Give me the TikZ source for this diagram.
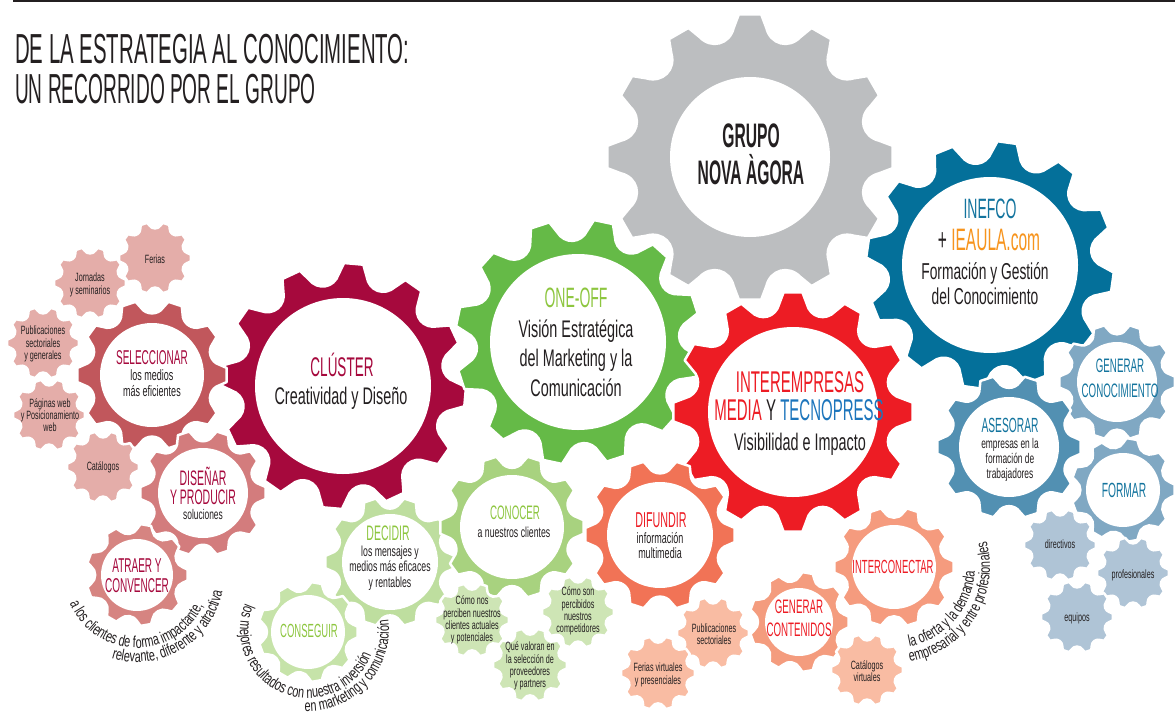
\documentclass[tikz,border=0pt]{standalone}
\usepackage{fontspec}
\setmainfont{Liberation Sans}
\newfontfamily\fTa{Liberation Sans}[FakeStretch=0.485]
\newfontfamily\fT{Liberation Sans}[FakeStretch=0.455]
\newfontfamily\fG{Liberation Sans}[FakeStretch=0.46]
\newfontfamily\fH{Liberation Sans}[FakeStretch=0.5]
\newfontfamily\fB{Liberation Sans}[FakeStretch=0.6]
\newfontfamily\fC{Liberation Sans}[FakeStretch=0.68]
\usetikzlibrary{decorations.text}
\newcommand{\setfs}[1]{\fontsize{#1}{#1}\selectfont}
\definecolor{txt}{HTML}{231F20}
\definecolor{crimsonT}{HTML}{A6093D}
\definecolor{greenT}{HTML}{8DC63F}
\definecolor{redT}{HTML}{ED1C24}
\definecolor{tealT}{HTML}{13749E}
\definecolor{tecno}{HTML}{1C75BC}
\definecolor{orangeT}{HTML}{F7941D}
\definecolor{gGray}{HTML}{BCBEC0}
\definecolor{gCrimson}{HTML}{A6093D}
\definecolor{gGreen}{HTML}{65BA47}
\definecolor{gRed}{HTML}{ED1C24}
\definecolor{gTeal}{HTML}{04709A}
\definecolor{gSel}{HTML}{C1575C}
\definecolor{gDis}{HTML}{D37C7D}
\definecolor{gAtr}{HTML}{D68481}
\definecolor{gPink}{HTML}{E4ADA9}
\definecolor{gCon}{HTML}{A8D27F}
\definecolor{gDec}{HTML}{BEDE9F}
\definecolor{gCsg}{HTML}{C6E3A9}
\definecolor{gGrs}{HTML}{CEE5B5}
\definecolor{gDif}{HTML}{F17356}
\definecolor{gInt}{HTML}{F59B7E}
\definecolor{gGen}{HTML}{F49C7E}
\definecolor{gSal}{HTML}{F9BCA3}
\definecolor{gAse}{HTML}{5290B2}
\definecolor{gGcn}{HTML}{80A8C3}
\definecolor{gBlu}{HTML}{AFC4D6}
\tikzset{
  gearline/.style={draw=white, line width=2.5pt, line join=round},
  t/.style={inner sep=0pt, anchor=base, text=txt},
  hd/.style={t, font=\fH\setfs{#1}},
  bd/.style={t, font=\fB\setfs{#1}},
  sm/.style={inner sep=0pt, anchor=center, align=center, text=txt, font=\fB\fontsize{12}{12.3}\selectfont},
  curve/.style={decorate, decoration={text along path, text align=center, text color=txt, text={|\fC\setfs{16}|#1}}}
}
% #1 x, #2 y, #3 outer radius, #4 teeth, #5 phase, #6 colour, #7 inner radius
\newcommand{\gear}[7]{%
  \pgfmathsetmacro\gP{360/#4}%
  \pgfmathsetmacro\gA{0.15*\gP}%
  \pgfmathsetmacro\gB{0.24*\gP}%
  \pgfmathsetmacro\gC{0.10*\gP}%
  \pgfmathsetmacro\gRm{0.91*#3}%
  \pgfmathsetmacro\gRr{0.80*#3}%
  \begin{scope}[shift={(#1,#2)}]
    \filldraw[gearline, fill=#6] ({#5-\gA}:#3)
      \foreach \i in {1,...,#4}{
        -- ({#5+(\i-1)*\gP-\gA}:#3) -- ({#5+(\i-1)*\gP+\gA}:#3)
        -- ({#5+(\i-1)*\gP+\gB}:\gRm)
        .. controls ({#5+(\i-1)*\gP+\gB+\gC}:\gRr) and ({#5+\i*\gP-\gB-\gC}:\gRr) .. ({#5+\i*\gP-\gB}:\gRm)
      } -- cycle;
    \ifdim #7pt>0pt \fill[white] (0,0) circle[radius=#7]; \fi
  \end{scope}}
\begin{document}
\begin{tikzpicture}[x=1pt,y=-1pt]
\useasboundingbox (0,0) rectangle (1175,715);
\fill[white] (0,0) rectangle (1175,715);
\draw[line width=1.6pt, txt] (13,0.8) -- (1175,0.8);

% title
\node[t, anchor=base west, font=\fTa\setfs{42}] (title1) at (15,63) {DE LA ESTRATEGIA AL CONOCIMIENTO:};
\node[t, anchor=base west, font=\fT\setfs{42}] (title2) at (15,103) {UN RECORRIDO POR EL GRUPO};

% big gears
\gear{750}{157}{143}{12}{0}{gGray}{80}
\gear{990}{265}{124}{12}{8}{gTeal}{88}
\gear{343}{386}{123}{12}{5}{gCrimson}{88}
\gear{578}{342}{123}{12}{12}{gGreen}{88}
\gear{793}{412}{120}{12}{0}{gRed}{85}
% medium gears
\gear{152}{375}{75}{10}{0}{gSel}{52}
\gear{203}{493}{63}{10}{0}{gDis}{45}
\gear{137}{575}{51}{9}{0}{gAtr}{36}
\gear{390}{562}{65}{10}{0}{gDec}{48}
\gear{308}{632}{50}{9}{0}{gCsg}{37}
\gear{512}{527}{72}{10}{0}{gCon}{52}
\gear{660}{535}{75}{10}{0}{gDif}{53}
\gear{894}{567}{60}{10}{0}{gInt}{42}
\gear{799}{622}{50}{9}{0}{gGen}{34}
\gear{1117}{382}{58}{10}{0}{gGcn}{40}
\gear{1009}{447}{72}{10}{0}{gAse}{50}
\gear{1123}{490}{52}{9}{0}{gGcn}{37}
% small gears
\gear{155}{258}{36}{10}{0}{gPink}{0}
\gear{90}{283}{36}{10}{0}{gPink}{0}
\gear{43}{343}{36}{10}{0}{gPink}{0}
\gear{49}{415}{36}{10}{0}{gPink}{0}
\gear{103}{467}{36}{10}{0}{gPink}{0}
\gear{472}{620}{37}{10}{0}{gGrs}{0}
\gear{578}{612}{36}{10}{0}{gGrs}{0}
\gear{530}{665}{37}{10}{0}{gGrs}{0}
\gear{713}{633}{36}{10}{0}{gSal}{0}
\gear{658}{673}{37}{10}{0}{gSal}{0}
\gear{867}{670}{36}{10}{0}{gSal}{0}
\gear{1060}{545}{36}{10}{0}{gBlu}{0}
\gear{1133}{573}{36}{10}{0}{gBlu}{0}
\gear{1077}{617}{36}{10}{0}{gBlu}{0}

% texts: big gears
\node[t, font=\fG\bfseries\setfs{34}] (grupo1) at (751,147) {GRUPO};
\node[t, font=\fG\bfseries\setfs{34}] (grupo2) at (751,184) {NOVA ÀGORA};
\node[hd=27, text=crimsonT] (clu1) at (342,376) {CLÚSTER};
\node[bd=24] (clu2) at (341,404) {Creatividad y Diseño};
\node[hd=28, text=greenT] (one1) at (576,307) {ONE-OFF};
\node[bd=24] (one2) at (576,337) {Visión Estratégica};
\node[bd=24] (one3) at (576,366) {del Marketing y la};
\node[bd=24] (one4) at (576,396) {Comunicación};
\node[hd=30, text=redT] (int1) at (800,392) {INTEREMPRESAS};
\node[hd=30] (int2) at (799,420) {\textcolor{redT}{MEDIA} Y \textcolor{tecno}{TECNOPRESS}};
\node[bd=24] (int3) at (800,450) {Visibilidad e Impacto};
\node[hd=28, text=tealT] (ine1) at (990,218) {INEFCO};
\node[hd=31] (ine2) at (989,250) {+ \textcolor{orangeT}{IEAULA.com}};
\node[bd=23] (ine3) at (985,279) {Formación y Gestión};
\node[bd=23] (ine4) at (985,304) {del Conocimiento};

% medium gears
\node[hd=20, text=crimsonT] (sel1) at (152,364) {SELECCIONAR};
\node[bd=15] (sel2) at (152,380) {los medios};
\node[bd=15] (sel3) at (152,396) {más eficientes};
\node[hd=21, text=crimsonT] (dis1) at (203,485) {DISEÑAR};
\node[hd=21, text=crimsonT] (dis2) at (203,504) {Y PRODUCIR};
\node[bd=14] (dis3) at (203,519) {soluciones};
\node[hd=20, text=crimsonT] (atr1) at (137,572) {ATRAER Y};
\node[hd=20, text=crimsonT] (atr2) at (137,592) {CONVENCER};
\node[hd=21, text=greenT] (dec1) at (388,540) {DECIDIR};
\node[bd=14.5] (dec2) at (390,556) {los mensajes y};
\node[bd=14.5] (dec3) at (390,571) {medios más eficaces};
\node[bd=14.5] (dec4) at (390,587) {y rentables};
\node[hd=19, text=greenT] (csg1) at (309,637) {CONSEGUIR};
\node[hd=19.5, text=greenT] (con1) at (515,519) {CONOCER};
\node[bd=14.5] (con2) at (514,537) {a nuestros clientes};
\node[hd=21.5, text=redT] (dif1) at (661,527) {DIFUNDIR};
\node[bd=15] (dif2) at (660,543) {información};
\node[bd=15] (dif3) at (660,558) {multimedia};
\node[hd=19, text=redT] (itc1) at (893,573) {INTERCONECTAR};
\node[hd=19.5, text=redT] (gen1) at (799,613) {GENERAR};
\node[hd=19.5, text=redT] (gen2) at (799,636) {CONTENIDOS};
\node[hd=19.5, text=tealT] (gcn1) at (1120,372) {GENERAR};
\node[hd=19.5, text=tealT] (gcn2) at (1120,397) {CONOCIMIENTO};
\node[hd=20.5, text=tealT] (ase1) at (1010,432) {ASESORAR};
\node[bd=14] (ase2) at (1010,448) {empresas en la};
\node[bd=14] (ase3) at (1010,463) {formación de};
\node[bd=14] (ase4) at (1010,478) {trabajadores};
\node[hd=20.5, text=tealT] (for1) at (1124,497) {FORMAR};

% small gears
\node[bd=12] (p1) at (155,263) {Ferias};
\node[sm] (p2) at (90,285) {Jornadas\\y seminarios};
\node[sm] (p3) at (43,344) {Publicaciones\\sectoriales\\y generales};
\node[sm] (p4) at (50,415) {Páginas web\\y Posicionamiento\\web};
\node[bd=12] (p5) at (103,470) {Catálogos};
\node[sm] (v1) at (472,620) {Cómo nos\\perciben nuestros\\clientes actuales\\y potenciales};
\node[sm] (v2) at (578,611) {Cómo son\\percibidos\\nuestros\\competidores};
\node[sm] (v3) at (530,666) {Qué valoran en\\la selección de\\proveedores\\y partners};
\node[sm] (s1) at (714,634) {Publicaciones\\sectoriales};
\node[sm] (s2) at (658,675) {Ferias virtuales\\y presenciales};
\node[sm] (s3) at (867,671) {Catálogos\\virtuales};
\node[bd=12] (b1) at (1060,548) {directivos};
\node[bd=12] (b2) at (1133,578) {profesionales};
\node[bd=12] (b3) at (1077,621) {equipos};

% curved texts
\begin{scope}[shift={(137,575)}]
  \path[curve={a los clientes de forma impactante,}] (-188:73) arc[start angle=-188, end angle=-350, radius=73];
  \path[curve={relevante, diferente y atractiva}] (-238:87) arc[start angle=-238, end angle=-364, radius=87];
\end{scope}
\begin{scope}[shift={(308,630)}]
  \path[curve={los mejores resultados con nuestra inversión}] (-148:68) arc[start angle=-148, end angle=-348, radius=68];
  \path[curve={en marketing y comunicación}] (-258:81) arc[start angle=-258, end angle=-377, radius=81];
\end{scope}
\begin{scope}[shift={(894,567)}]
  \path[curve={la oferta y la demanda}] (-270:81) arc[start angle=-270, end angle=-368, radius=81];
  \path[curve={empresarial y entre profesionales}] (-270:96) arc[start angle=-270, end angle=-385, radius=96];
\end{scope}
\end{tikzpicture}
\end{document}
